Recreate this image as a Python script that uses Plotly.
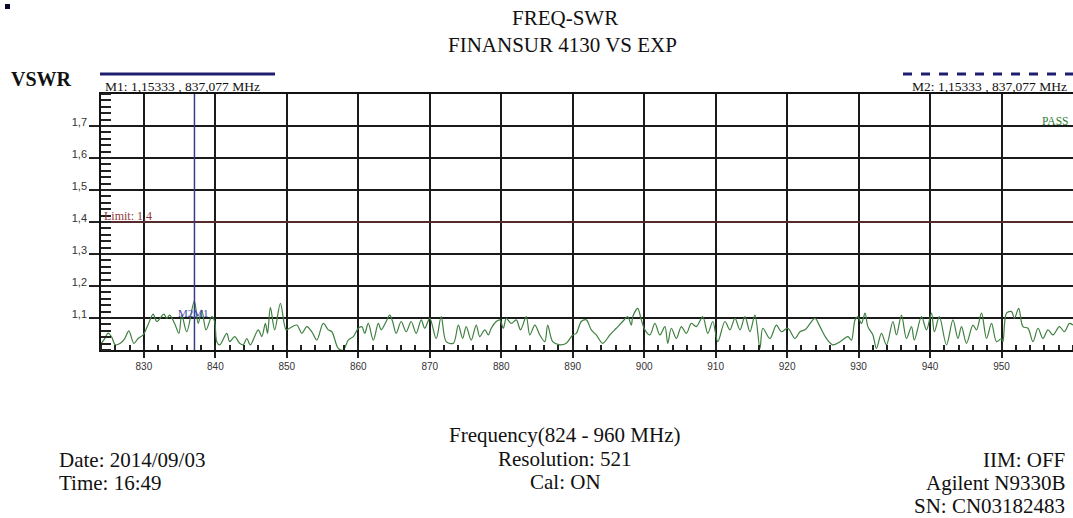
import plotly.graph_objects as go

# ---- data ----
freq = [824.0, 824.5, 825.0, 825.5, 826.0, 826.7, 827.3, 827.9, 828.6, 829.2, 829.9, 830.6, 831.3, 831.8,
        832.8, 833.2, 833.6, 834.3, 834.9, 835.3, 836.0, 837.05, 837.6, 838.1, 838.7, 839.5, 839.9, 840.2,
        840.6, 841.6, 842.0, 842.7, 843.4, 843.9, 844.4, 844.9, 846.0, 846.5, 847.0, 847.3, 847.7, 848.3,
        849.1, 849.9, 850.4, 851.4, 852.1, 852.8, 853.5, 854.2, 855.1, 855.8, 856.3, 857.2, 857.9, 858.6,
        859.3, 860.0, 860.5, 860.9, 861.4, 862.1, 862.8, 863.2, 863.9, 864.4, 864.8, 865.3, 866.0, 866.7,
        867.4, 868.1, 868.8, 869.3, 870.0, 870.9, 871.6, 872.3, 873.3, 874.0, 874.6, 875.1, 875.8, 876.5,
        877.0, 877.7, 878.2, 878.6, 879.3, 879.8, 880.3, 880.7, 881.4, 882.1, 882.7, 883.5, 884.0, 884.7,
        885.4, 886.1, 886.5, 887.2, 888.2, 889.1, 890.0, 890.5, 891.2, 891.9, 892.6, 893.3, 894.2, 895.2,
        896.1, 897.0, 897.7, 898.2, 898.4, 899.1, 899.6, 900.1, 900.8, 901.5, 902.2, 902.9, 903.3, 903.8,
        904.5, 905.2, 905.9, 906.6, 907.3, 908.2, 908.9, 909.6, 910.3, 911.3, 912.0, 912.7, 913.4, 914.1,
        914.8, 915.5, 916.2, 916.6, 917.6, 918.5, 919.2, 920.1, 921.1, 921.8, 922.5, 922.9, 923.9, 924.6,
        925.5, 926.4, 927.4, 928.5, 929.0, 929.5, 929.9, 930.4, 930.9, 931.3, 932.0, 932.5, 933.2, 933.9,
        934.8, 935.3, 936.0, 936.7, 937.4, 937.8, 938.8, 939.5, 940.2, 940.6, 941.3, 942.3, 943.2, 943.9,
        944.4, 945.1, 946.0, 946.5, 947.2, 947.9, 948.6, 949.3, 950.0, 950.2, 950.7, 951.4, 951.8, 952.4,
        953.0, 953.7, 954.4, 955.1, 955.8, 956.5, 957.2, 958.1, 958.8, 959.5, 960.0]
vswr = [1.020, 1.035, 1.053, 1.040, 1.016, 1.021, 1.035, 1.060, 1.021, 1.036, 1.047, 1.080, 1.112, 1.089,
        1.112, 1.099, 1.109, 1.083, 1.052, 1.109, 1.057, 1.153, 1.083, 1.125, 1.063, 1.104, 1.089, 1.026,
        1.016, 1.052, 1.026, 1.042, 1.021, 1.016, 1.036, 1.016, 1.063, 1.042, 1.083, 1.052, 1.133, 1.063,
        1.146, 1.063, 1.068, 1.078, 1.052, 1.073, 1.057, 1.031, 1.083, 1.063, 1.057, 1.005, 1.000, 1.031,
        1.042, 1.068, 1.073, 1.052, 1.083, 1.031, 1.083, 1.063, 1.089, 1.109, 1.089, 1.052, 1.089, 1.057,
        1.089, 1.052, 1.094, 1.068, 1.099, 1.036, 1.104, 1.026, 1.021, 1.078, 1.036, 1.073, 1.031, 1.078,
        1.042, 1.063, 1.047, 1.068, 1.089, 1.094, 1.068, 1.099, 1.083, 1.094, 1.063, 1.104, 1.047, 1.078,
        1.047, 1.026, 1.078, 1.026, 1.016, 1.021, 1.047, 1.052, 1.089, 1.094, 1.063, 1.047, 1.021, 1.047,
        1.068, 1.089, 1.104, 1.078, 1.104, 1.130, 1.094, 1.063, 1.047, 1.083, 1.047, 1.073, 1.021, 1.068,
        1.036, 1.073, 1.052, 1.083, 1.073, 1.104, 1.052, 1.089, 1.026, 1.089, 1.063, 1.099, 1.063, 1.104,
        1.057, 1.109, 1.005, 1.068, 1.036, 1.078, 1.057, 1.068, 1.036, 1.057, 1.063, 1.073, 1.099, 1.073,
        1.036, 1.016, 1.026, 1.042, 1.031, 1.094, 1.104, 1.083, 1.115, 1.073, 1.047, 1.005, 1.052, 1.016,
        1.089, 1.047, 1.109, 1.036, 1.073, 1.031, 1.104, 1.063, 1.115, 1.057, 1.104, 1.016, 1.094, 1.036,
        1.073, 1.021, 1.078, 1.063, 1.115, 1.036, 1.083, 1.026, 1.036, 1.026, 1.115, 1.120, 1.099, 1.130,
        1.073, 1.068, 1.026, 1.068, 1.036, 1.063, 1.047, 1.073, 1.057, 1.083, 1.078]

x_ticks = [830, 840, 850, 860, 870, 880, 890, 900, 910, 920, 930, 940, 950]
x_tick_labels = [str(v) for v in x_ticks]
y_ticks = [1.1, 1.2, 1.3, 1.4, 1.5, 1.6, 1.7]
y_tick_labels = ["1,1", "1,2", "1,3", "1,4", "1,5", "1,6", "1,7"]

x_range = [824, 960]
y_range = [1.0, 1.8]
limit = 1.4
marker_freq = 837.077
marker_vswr = 1.15333

title_lines = ["FREQ-SWR", "FINANSUR 4130 VS EXP"]
m1_label = "M1: 1,15333 , 837,077 MHz"
m2_label = "M2: 1,15333 , 837,077 MHz"
center_info = ["Frequency(824 - 960 MHz)", "Resolution: 521", "Cal: ON"]
left_info = ["Date: 2014/09/03", "Time: 16:49"]
right_info = ["IIM: OFF", "Agilent N9330B", "SN: CN03182483"]

# ---- figure ----
W, H = 1073, 518
L, R, T, B = 101, 0, 94, 168
PW, PH = W - L - R, H - T - B


def px(x):
    return (x - L) / PW


def py(y):
    return (H - B - y) / PH


SERIF = "Liberation Serif"
SANS = "Liberation Sans"

fig = go.Figure()
fig.add_trace(go.Scatter(x=freq, y=vswr, mode="lines",
                         line=dict(color="#3f8040", width=1.2, shape="spline", smoothing=0.9),
                         hoverinfo="skip", showlegend=False))
fig.add_trace(go.Scatter(x=x_range, y=[limit, limit], mode="lines",
                         line=dict(color="#8e3a3a", width=1), hoverinfo="skip", showlegend=False))
fig.add_trace(go.Scatter(x=[marker_freq, marker_freq], y=y_range, mode="lines",
                         line=dict(color="#3a3a8a", width=1.5), hoverinfo="skip", showlegend=False))

ann = []
ann.append(dict(text=title_lines[0], x=px(565), y=py(18), xref="paper", yref="paper",
                showarrow=False, font=dict(family=SERIF, size=21, color="#111"), xanchor="center", yanchor="middle"))
ann.append(dict(text=title_lines[1], x=px(562), y=py(45), xref="paper", yref="paper",
                showarrow=False, font=dict(family=SERIF, size=21, color="#111"), xanchor="center", yanchor="middle"))
ann.append(dict(text="<b>VSWR</b>", x=px(9), y=py(79), xref="paper", yref="paper",
                showarrow=False, font=dict(family=SERIF, size=20, color="#111"), xanchor="left", yanchor="middle"))
ann.append(dict(text=m1_label, x=px(103), y=py(86), xref="paper", yref="paper",
                showarrow=False, font=dict(family=SERIF, size=13.5, color="#111"), xanchor="left", yanchor="middle"))
ann.append(dict(text=m2_label, x=px(1069), y=py(86), xref="paper", yref="paper",
                showarrow=False, font=dict(family=SERIF, size=13.5, color="#111"), xanchor="right", yanchor="middle"))
ann.append(dict(text="PASS", x=px(1070), y=py(121), xref="paper", yref="paper",
                showarrow=False, font=dict(family=SERIF, size=11.5, color="#2e7d32"), xanchor="right", yanchor="middle"))
ann.append(dict(text="Limit: 1,4", x=px(102), y=limit + 0.02, xref="paper", yref="y",
                showarrow=False, font=dict(family=SERIF, size=12, color="#8e3a3a"), xanchor="left", yanchor="middle"))
ann.append(dict(text="M2M1", x=marker_freq - 0.2, y=1.117, xref="x", yref="y",
                showarrow=False, font=dict(family=SERIF, size=11, color="#4646b0"), xanchor="center", yanchor="middle"))

for txt, yy in zip(center_info, [435, 459, 482]):
    ann.append(dict(text=txt, x=px(565), y=py(yy), xref="paper", yref="paper", showarrow=False,
                    font=dict(family=SERIF, size=21, color="#111"), xanchor="center", yanchor="middle"))
for txt, yy in zip(left_info, [460, 483]):
    ann.append(dict(text=txt, x=px(57), y=py(yy), xref="paper", yref="paper", showarrow=False,
                    font=dict(family=SERIF, size=21, color="#111"), xanchor="left", yanchor="middle"))
for txt, yy in zip(right_info, [460, 483, 506]):
    ann.append(dict(text=txt, x=px(1067), y=py(yy), xref="paper", yref="paper", showarrow=False,
                    font=dict(family=SERIF, size=21, color="#111"), xanchor="right", yanchor="middle"))

shapes = [
    dict(type="line", xref="paper", yref="paper", x0=px(100), x1=px(275), y0=py(74), y1=py(74),
         line=dict(color="#1e1e6e", width=3)),
    dict(type="line", xref="paper", yref="paper", x0=px(903), x1=px(1073), y0=py(74), y1=py(74),
         line=dict(color="#1e1e6e", width=3, dash="dash")),
    dict(type="rect", xref="paper", yref="paper", x0=px(5), x1=px(10), y0=py(9), y1=py(4),
         fillcolor="#0a0a30", line=dict(width=0)),
]

fig.update_layout(
    width=W, height=H, margin=dict(l=L, r=R, t=T, b=B, pad=0),
    paper_bgcolor="white", plot_bgcolor="white",
    annotations=ann, shapes=shapes, showlegend=False,
    xaxis=dict(range=x_range, tickvals=x_ticks, ticktext=x_tick_labels,
               showgrid=True, gridcolor="#1a1a1a", gridwidth=1.5,
               showline=True, linecolor="#111", linewidth=1.5, mirror=True,
               ticks="outside", ticklen=6, tickcolor="#222", tickwidth=1.5,
               tickfont=dict(family=SANS, size=10, color="#333"),
               minor=dict(ticks="inside", dtick=2, tick0=0, ticklen=5, tickcolor="#222", tickwidth=1.5, showgrid=False),
               zeroline=False, fixedrange=True),
    yaxis=dict(range=y_range, tickvals=y_ticks, ticktext=y_tick_labels,
               showgrid=True, gridcolor="#1a1a1a", gridwidth=1.5,
               showline=True, linecolor="#111", linewidth=1.5,
               ticks="outside", ticklen=10, tickcolor="#222", tickwidth=1.5,
               tickfont=dict(family=SANS, size=11, color="#333"),
               ticklabelshift=-4,
               minor=dict(ticks="inside", dtick=0.02, tick0=1.0, ticklen=10, tickcolor="#222", tickwidth=1.5, showgrid=False),
               zeroline=False, fixedrange=True),
)

fig.write_html("out.html")
